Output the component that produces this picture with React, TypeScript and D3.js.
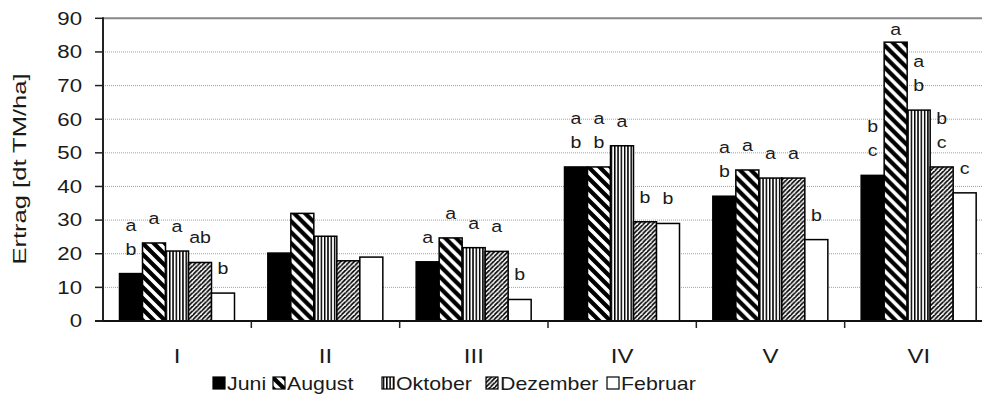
import { scaleBand, scaleLinear } from "d3";

const groups = ["I", "II", "III", "IV", "V", "VI"];
const months = ["Juni", "August", "Oktober", "Dezember", "Februar"];

// Ertrag per Termin, je Gruppe I..VI
const juni = [14.1, 20.2, 17.6, 45.8, 37.1, 43.3];
const august = [23.2, 32.0, 24.7, 45.8, 44.9, 82.9];
const oktober = [20.8, 25.2, 21.8, 52.1, 42.5, 62.7];
const dezember = [17.4, 17.9, 20.7, 29.5, 42.5, 45.8];
const februar = [8.3, 19.0, 6.4, 29.0, 24.2, 38.1];

// Signifikanz-Buchstaben (Zeilen von oben nach unten)
const lettersJuni = [["a", "b"], [], ["a"], ["a", "b"], ["a", "b"], ["b", "c"]];
const lettersAugust = [["a"], [], ["a"], ["a", "b"], ["a"], ["a"]];
const lettersOktober = [["a"], [], ["a"], ["a"], ["a"], ["a", "b"]];
const lettersDezember = [["ab"], [], ["a"], ["b"], ["a"], ["b", "c"]];
const lettersFebruar = [["b"], [], ["b"], ["b"], ["b"], ["c"]];

const yTicks = [0, 10, 20, 30, 40, 50, 60, 70, 80, 90];

const seriesValues = [juni, august, oktober, dezember, februar];
const seriesLetters = [lettersJuni, lettersAugust, lettersOktober, lettersDezember, lettersFebruar];
const fills = ["#000", "url(#pAug)", "url(#pOkt)", "url(#pDez)", "#fff"];

const W = 982;
const H = 402;
const FONT = "'Liberation Sans', Arial, sans-serif";

function SText({ x, y, sx = 1.27, size = 17.5, anchor = "middle", children }: any) {
  return (
    <text
      transform={`translate(${x},${y}) scale(${sx},1)`}
      textAnchor={anchor}
      fontSize={size}
      fontFamily={FONT}
      fill="#1a1a1a"
    >
      {children}
    </text>
  );
}

export default function App() {
  const plot = { left: 103, right: 993, top: 18.3, bottom: 321 };

  const x0 = scaleBand<string>().domain(groups).range([plot.left, plot.right]);
  const x1 = scaleBand<string>().domain(months).range([16.5, 131.5]);
  const y = scaleLinear().domain([0, 90]).range([plot.bottom, plot.top]);

  const legendX = [213, 273, 382, 486, 607];

  return (
    <svg
      width={W}
      height={H}
      viewBox={`0 0 ${W} ${H}`}
      style={{ position: "absolute", left: 0, top: 0, background: "#fff" }}
    >
      <defs>
        <pattern id="pAug" patternUnits="userSpaceOnUse" width={11} height={11}>
          <rect width={11} height={11} fill="#000" />
          <path d="M-3,-3 L14,14 M-3,8 L3,14 M8,-3 L14,3" stroke="#fff" strokeWidth={3.6} />
        </pattern>
        <pattern id="pOkt" patternUnits="userSpaceOnUse" width={3.3} height={4}>
          <rect width={3.3} height={4} fill="#fff" />
          <rect width={1.5} height={4} fill="#000" />
        </pattern>
        <pattern id="pDez" patternUnits="userSpaceOnUse" width={4.5} height={4.5}>
          <rect width={4.5} height={4.5} fill="#fff" />
          <path d="M-1,5.5 L5.5,-1 M-2,2 L2,-2 M2.5,7 L7,2.5" stroke="#000" strokeWidth={1.7} />
        </pattern>
      </defs>

      {/* gridlines */}
      {yTicks
        .filter((t) => t > 0 && t < 90)
        .map((t) => (
          <line
            key={`g${t}`}
            x1={plot.left}
            x2={W}
            y1={y(t)}
            y2={y(t)}
            stroke="#a0a0a0"
            strokeDasharray="1 1"
          />
        ))}
      <line x1={plot.left} x2={W} y1={y(90)} y2={y(90)} stroke="#888" strokeWidth={2} />

      {/* bars */}
      {groups.map((g, gi) => (
        <g key={g} transform={`translate(${x0(g)},0)`}>
          {months.map((m, mi) => {
            const v = seriesValues[mi][gi];
            return (
              <rect
                key={m}
                x={x1(m)}
                y={y(v)}
                width={x1.bandwidth()}
                height={y(0) - y(v)}
                fill={fills[mi]}
                stroke="#000"
                strokeWidth={1.5}
              />
            );
          })}
        </g>
      ))}

      {/* letters */}
      {groups.map((g, gi) =>
        months.map((m, mi) => {
          const lines = seriesLetters[mi][gi];
          const cx = (x0(g) ?? 0) + (x1(m) ?? 0) + x1.bandwidth() / 2;
          const base = Math.max(y(seriesValues[mi][gi]) - 19, 35);
          return lines.map((s, li) => (
            <SText
              key={`${g}-${m}-${li}`}
              x={cx}
              y={base - (lines.length - 1 - li) * 24}
              sx={1.15}
              size={17}
            >
              {s}
            </SText>
          ));
        })
      )}

      {/* axes */}
      <line x1={plot.left} x2={plot.left} y1={plot.top - 1} y2={plot.bottom + 1} stroke="#222" strokeWidth={2} />
      <line x1={plot.left - 8} x2={W} y1={plot.bottom} y2={plot.bottom} stroke="#111" strokeWidth={2} />
      {yTicks.map((t) => (
        <g key={`t${t}`}>
          <line x1={plot.left - 8} x2={plot.left} y1={y(t)} y2={y(t)} stroke="#222" strokeWidth={1.5} />
          <SText x={82} y={y(t) + 6.3} anchor="end">
            {t}
          </SText>
        </g>
      ))}
      {groups.map((g, gi) =>
        gi === 0 ? null : (
          <line
            key={`ct${g}`}
            x1={x0(g)}
            x2={x0(g)}
            y1={plot.bottom}
            y2={plot.bottom + 7}
            stroke="#222"
            strokeWidth={1.5}
          />
        )
      )}
      {groups.map((g) => (
        <SText key={`c${g}`} x={(x0(g) ?? 0) + x0.bandwidth() / 2} y={363} size={20} sx={1.2}>
          {g}
        </SText>
      ))}

      {/* y label */}
      <g transform="translate(26,169) rotate(-90)">
        <SText x={0} y={0} sx={1.42} size={18}>
          Ertrag [dt TM/ha]
        </SText>
      </g>

      {/* legend */}
      {months.map((m, mi) => (
        <g key={`l${m}`}>
          <rect
            x={legendX[mi]}
            y={377}
            width={12}
            height={12}
            fill={fills[mi]}
            stroke="#000"
            strokeWidth={1.2}
          />
          <SText x={legendX[mi] + 14} y={389.5} anchor="start" sx={1.22}>
            {m}
          </SText>
        </g>
      ))}
    </svg>
  );
}
